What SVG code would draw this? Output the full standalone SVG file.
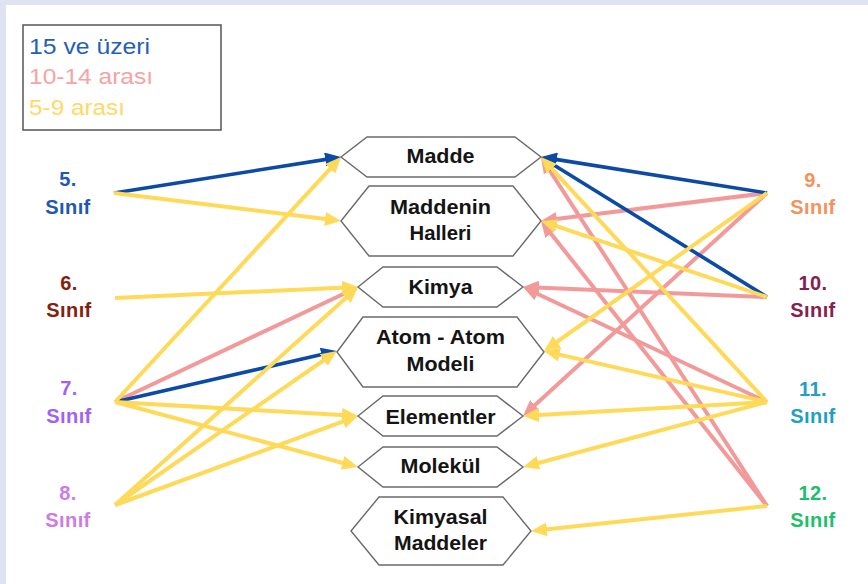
<svg xmlns="http://www.w3.org/2000/svg" width="868" height="584" viewBox="0 0 868 584">
<style>
.hex{fill:#ffffff;stroke:#6a6a6a;stroke-width:1.4}
.nt{font-family:"Liberation Sans",Arial,sans-serif;font-weight:bold;font-size:20px;fill:#141414;text-anchor:middle}
.lb{font-family:"Liberation Sans",Arial,sans-serif;font-weight:bold;font-size:20px;text-anchor:middle;letter-spacing:0.4px}
.lg{font-family:"Liberation Sans",Arial,sans-serif;font-size:22px}
.c{fill:none;stroke-width:4;stroke-linecap:butt}
.b{stroke:#0b4aa6;stroke-width:3.6;marker-end:url(#mb)}
.p{stroke:#f29a9a;marker-end:url(#mp)}
.y{stroke:#ffd958;marker-end:url(#my)}
</style>
<defs>
<marker id="mb" markerUnits="userSpaceOnUse" markerWidth="16" markerHeight="14" refX="9" refY="7" orient="auto"><path d="M0,0 L16,7 L0,14 z" fill="#0b4aa6"/></marker>
<marker id="mp" markerUnits="userSpaceOnUse" markerWidth="16" markerHeight="14" refX="9" refY="7" orient="auto"><path d="M0,0 L16,7 L0,14 z" fill="#f29a9a"/></marker>
<marker id="my" markerUnits="userSpaceOnUse" markerWidth="16" markerHeight="14" refX="9" refY="7" orient="auto"><path d="M0,0 L16,7 L0,14 z" fill="#ffd958"/></marker>
</defs>
<rect x="0" y="0" width="868" height="584" fill="#dfe2f0"/>
<rect x="6" y="5" width="862" height="579" fill="#ffffff"/>

<g id="legend">
<rect x="23" y="25" width="198" height="105" fill="#ffffff" stroke="#555555" stroke-width="1.5"/>
<text class="lg" x="29" y="54" fill="#2460b6" textLength="121" lengthAdjust="spacingAndGlyphs">15 ve üzeri</text>
<text class="lg" x="29" y="84" fill="#f5a3a3" textLength="124" lengthAdjust="spacingAndGlyphs">10-14 arası</text>
<text class="lg" x="29" y="115" fill="#ffd966" textLength="96" lengthAdjust="spacingAndGlyphs">5-9 arası</text>
</g>

<g id="connectors">
<path class="c p" d="M115,402 L351.7,290"/>
<path class="c p" d="M767,193 L547.9,220.1"/>
<path class="c p" d="M767,193 L528.2,411.3"/>
<path class="c p" d="M767,297 L530,287.3"/>
<path class="c p" d="M767,402 L529.3,290"/>
<path class="c p" d="M767,506 L544.8,162.9"/>
<path class="c p" d="M767,506 L545.3,226.5"/>
<path class="c b" d="M114,193 L334.1,158.1"/>
<path class="c b" d="M115,402 L330.2,352.6"/>
<path class="c b" d="M767,193 L547.9,158.1"/>
<path class="c b" d="M767,297 L547,160.7"/>
<path class="c y" d="M114,193 L334,220.1"/>
<path class="c y" d="M115,298 L351,287.3"/>
<path class="c y" d="M115,402 L336.3,162.1"/>
<path class="c y" d="M115,402 L351,415.6"/>
<path class="c y" d="M115,402 L351.2,465.2"/>
<path class="c y" d="M115,505 L352.8,291.7"/>
<path class="c y" d="M115,505 L331.2,355"/>
<path class="c y" d="M115,505 L351.4,418.4"/>
<path class="c y" d="M767,193 L549.7,347"/>
<path class="c y" d="M767,297 L547.6,223.2"/>
<path class="c y" d="M767,402 L545.7,162.1"/>
<path class="c y" d="M767,402 L550.8,352.6"/>
<path class="c y" d="M767,402 L530,415.6"/>
<path class="c y" d="M767,402 L529.8,465.2"/>
<path class="c y" d="M767,506 L538,530.3"/>
</g>

<g id="madde">
<polygon class="hex" points="341,157 367,137 515,137 541,157 515,177 367,177"/>
<text class="nt" x="440.5" y="162.5" textLength="68" lengthAdjust="spacingAndGlyphs">Madde</text>
</g>
<g id="maddenin-halleri">
<polygon class="hex" points="341,221 369,186 513,186 541,221 513,256 369,256"/>
<text class="nt" x="440.5" y="213.5" textLength="101" lengthAdjust="spacingAndGlyphs">Maddenin</text>
<text class="nt" x="440.5" y="240" textLength="62" lengthAdjust="spacingAndGlyphs">Halleri</text>
</g>
<g id="kimya">
<polygon class="hex" points="358,287 383,267 497,267 523,287 497,307 383,307"/>
<text class="nt" x="440.5" y="293.5" textLength="64" lengthAdjust="spacingAndGlyphs">Kimya</text>
</g>
<g id="atom-modeli">
<polygon class="hex" points="337,352 363,317 517,317 544,352 517,387 363,387"/>
<text class="nt" x="440.5" y="344" textLength="129" lengthAdjust="spacingAndGlyphs">Atom - Atom</text>
<text class="nt" x="440.5" y="371" textLength="68" lengthAdjust="spacingAndGlyphs">Modeli</text>
</g>
<g id="elementler">
<polygon class="hex" points="358,416 383,396 497,396 523,416 497,436 383,436"/>
<text class="nt" x="440.5" y="423.5" textLength="110" lengthAdjust="spacingAndGlyphs">Elementler</text>
</g>
<g id="molekul">
<polygon class="hex" points="358,467 383,447 497,447 523,467 497,487 383,487"/>
<text class="nt" x="440.5" y="472.5" textLength="80" lengthAdjust="spacingAndGlyphs">Molekül</text>
</g>
<g id="kimyasal-maddeler">
<polygon class="hex" points="351,531 379,497 503,497 531,531 503,565 379,565"/>
<text class="nt" x="440.5" y="523.5" textLength="94" lengthAdjust="spacingAndGlyphs">Kimyasal</text>
<text class="nt" x="440.5" y="549.5" textLength="93" lengthAdjust="spacingAndGlyphs">Maddeler</text>
</g>

<g id="sinif5" class="lb" fill="#1e58b4"><text class="lb" x="68" y="186">5.</text><text class="lb" x="68" y="213.5">Sınıf</text></g>
<g id="sinif6" class="lb" fill="#85200c"><text class="lb" x="69" y="290">6.</text><text class="lb" x="69" y="317">Sınıf</text></g>
<g id="sinif7" class="lb" fill="#9f62f5"><text class="lb" x="69" y="395">7.</text><text class="lb" x="69" y="422.5">Sınıf</text></g>
<g id="sinif8" class="lb" fill="#cc7be8"><text class="lb" x="68" y="499.5">8.</text><text class="lb" x="68" y="526.5">Sınıf</text></g>
<g id="sinif9" class="lb" fill="#f6915e"><text class="lb" x="813" y="186.5">9.</text><text class="lb" x="813" y="214">Sınıf</text></g>
<g id="sinif10" class="lb" fill="#85204f"><text class="lb" x="813" y="290">10.</text><text class="lb" x="813" y="317">Sınıf</text></g>
<g id="sinif11" class="lb" fill="#1fa0c3"><text class="lb" x="813" y="395.5">11.</text><text class="lb" x="813" y="422.5">Sınıf</text></g>
<g id="sinif12" class="lb" fill="#1cbf6a"><text class="lb" x="813" y="499.5">12.</text><text class="lb" x="813" y="526.5">Sınıf</text></g>
</svg>
